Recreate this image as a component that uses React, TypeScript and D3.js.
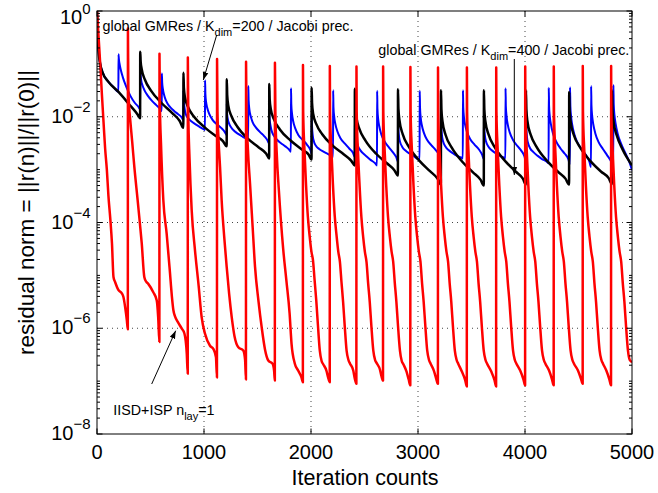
import React from 'react';
import * as d3 from 'd3';

// ---------- data: [iteration, log10(residual)] ----------
const xTickValues = [0, 1000, 2000, 3000, 4000, 5000];
const yTickExponents = [0, -2, -4, -6, -8];

// IISD+ISP n_lay=1 (red)
const redSeries: [number, number][] = [
  [0, 0], [15, -0.5], [30, -1.0], [45, -1.55], [61, -2.1], [76, -2.6], [92, -3.0], [107, -3.5], [125, -3.95], [140, -4.4], [154, -5.03], [170, -5.13], [201, -5.28], [232, -5.34], [247, -5.41], [263, -5.6], [279, -5.85], [288, -6.02],
  [289, -0.33], [293, -1.45], [300, -1.8], [308, -2.0], [330, -2.5], [349, -2.95], [380, -3.58], [400, -4.0], [418, -4.39], [442, -5.03], [460, -5.12], [479, -5.16], [526, -5.32], [558, -5.47], [572, -5.8], [583, -6.26],
  [584, -0.81], [588, -1.8], [598, -2.5], [620, -3.58], [651, -4.21], [680, -4.9], [700, -5.4], [714, -5.66], [730, -5.78], [755, -5.88], [790, -6.0], [817, -6.1], [839, -6.48], [848, -6.86],
  [849, -0.88], [853, -1.9], [865, -2.8], [885, -3.77], [916, -4.53], [950, -5.2], [978, -5.79], [1009, -6.1], [1056, -6.33], [1087, -6.39], [1112, -6.55], [1121, -6.93],
  [1122, -0.91], [1126, -1.9], [1135, -2.4], [1150, -2.95], [1165, -3.58], [1190, -4.3], [1212, -4.84], [1235, -5.35], [1259, -5.79], [1285, -6.15], [1321, -6.36], [1367, -6.42], [1384, -6.6], [1392, -6.97],
  [1393, -0.96], [1397, -1.9], [1410, -2.6], [1430, -3.26], [1455, -4.1], [1477, -4.84], [1510, -5.5], [1539, -5.98], [1570, -6.4], [1601, -6.61], [1640, -6.67], [1655, -6.8], [1662, -6.99],
  [1663, -0.98], [1667, -1.9], [1680, -2.7], [1700, -3.4], [1740, -4.5], [1770, -5.1], [1800, -5.72], [1818, -6.29], [1849, -6.67], [1880, -6.8], [1911, -6.93], [1924, -7.02],
  [1925, -1.02], [1927, -1.9], [1939, -2.63], [1954, -3.3], [1971, -3.9], [1988, -4.27], [2004, -4.55], [2019, -4.72], [2034, -5.1], [2049, -5.47], [2064, -5.92], [2082, -6.42], [2099, -6.62], [2114, -6.68], [2144, -6.8], [2160, -6.93], [2175, -7.02],
  [2176, -1.04], [2178, -1.9], [2190, -2.6], [2205, -3.28], [2222, -3.88], [2239, -4.25], [2255, -4.55], [2270, -4.74], [2285, -5.13], [2300, -5.5], [2315, -5.95], [2333, -6.43], [2350, -6.6], [2365, -6.67], [2395, -6.8], [2409, -6.95], [2424, -7.05],
  [2425, -1.05], [2427, -1.9], [2439, -2.65], [2454, -3.3], [2471, -3.9], [2488, -4.28], [2504, -4.56], [2519, -4.75], [2534, -5.15], [2549, -5.5], [2564, -5.95], [2582, -6.42], [2599, -6.6], [2614, -6.66], [2644, -6.78], [2658, -6.9], [2673, -6.99],
  [2674, -1.05], [2676, -1.9], [2688, -2.62], [2703, -3.3], [2720, -3.9], [2737, -4.27], [2753, -4.55], [2768, -4.74], [2783, -5.14], [2798, -5.5], [2813, -5.95], [2831, -6.42], [2848, -6.62], [2863, -6.68], [2893, -6.82], [2913, -6.97], [2928, -7.08],
  [2929, -1.06], [2931, -1.9], [2943, -2.63], [2958, -3.3], [2975, -3.9], [2992, -4.27], [3008, -4.55], [3023, -4.74], [3038, -5.15], [3053, -5.5], [3068, -5.94], [3086, -6.42], [3103, -6.6], [3118, -6.67], [3148, -6.8], [3171, -6.96], [3186, -7.05],
  [3187, -1.07], [3189, -1.9], [3201, -2.63], [3216, -3.3], [3233, -3.9], [3250, -4.27], [3266, -4.55], [3281, -4.74], [3296, -5.15], [3311, -5.5], [3326, -5.95], [3344, -6.42], [3361, -6.6], [3376, -6.67], [3410, -6.82], [3441, -6.98], [3456, -7.1],
  [3457, -1.07], [3459, -1.9], [3471, -2.63], [3486, -3.3], [3503, -3.9], [3520, -4.27], [3536, -4.55], [3551, -4.74], [3566, -5.15], [3581, -5.5], [3596, -5.95], [3614, -6.42], [3631, -6.6], [3646, -6.67], [3685, -6.82], [3715, -6.98], [3730, -7.1],
  [3731, -1.07], [3733, -1.9], [3745, -2.63], [3760, -3.3], [3777, -3.9], [3794, -4.27], [3810, -4.55], [3825, -4.74], [3840, -5.15], [3855, -5.5], [3870, -5.95], [3888, -6.42], [3905, -6.6], [3920, -6.67], [3955, -6.8], [3986, -6.97], [4001, -7.08],
  [4002, -1.05], [4004, -1.9], [4016, -2.63], [4031, -3.3], [4048, -3.9], [4065, -4.27], [4081, -4.55], [4096, -4.74], [4111, -5.15], [4126, -5.5], [4141, -5.95], [4159, -6.42], [4176, -6.6], [4191, -6.67], [4225, -6.8], [4253, -6.97], [4268, -7.08],
  [4269, -1.05], [4271, -1.9], [4283, -2.63], [4298, -3.3], [4315, -3.9], [4332, -4.27], [4348, -4.55], [4363, -4.74], [4378, -5.15], [4393, -5.5], [4408, -5.95], [4426, -6.42], [4443, -6.6], [4458, -6.67], [4495, -6.8], [4524, -6.96], [4539, -7.05],
  [4540, -1.04], [4542, -1.9], [4554, -2.63], [4569, -3.3], [4586, -3.9], [4603, -4.27], [4619, -4.55], [4634, -4.74], [4649, -5.15], [4664, -5.5], [4679, -5.95], [4697, -6.42], [4714, -6.6], [4729, -6.67], [4760, -6.8], [4789, -6.97], [4804, -7.08],
  [4805, -1.04], [4807, -1.9], [4819, -2.63], [4834, -3.3], [4851, -3.9], [4868, -4.27], [4884, -4.55], [4899, -4.74], [4914, -5.15], [4929, -5.5], [4944, -5.95], [4962, -6.42], [4979, -6.6], [5000, -6.64],
];

// global GMRes / K_dim=200 (blue)
const blueSeries: [number, number][] = [
  [0, 0], [5, -0.4], [14, -0.75], [30, -1.0], [50, -1.15], [107, -1.34], [150, -1.43], [200, -1.53],
  [201, -0.82], [204, -0.9], [211, -1.0], [221, -1.1], [241, -1.25], [271, -1.42], [311, -1.6], [351, -1.73], [386, -1.81], [403, -1.86],
  [404, -1.0], [407, -1.2], [414, -1.32], [424, -1.4], [444, -1.5], [474, -1.6], [514, -1.7], [554, -1.78], [589, -1.85], [605, -1.89],
  [606, -1.18], [609, -1.35], [616, -1.48], [626, -1.58], [646, -1.7], [676, -1.8], [716, -1.88], [756, -1.95], [791, -2.01], [807, -2.06],
  [808, -1.5], [811, -1.7], [818, -1.83], [828, -1.94], [848, -2.02], [878, -2.08], [918, -2.14], [958, -2.19], [993, -2.23], [1009, -2.25],
  [1010, -1.31], [1013, -1.57], [1020, -1.73], [1030, -1.83], [1050, -1.95], [1080, -2.06], [1120, -2.14], [1160, -2.21], [1195, -2.29], [1212, -2.35],
  [1213, -1.75], [1216, -1.95], [1223, -2.05], [1233, -2.12], [1253, -2.2], [1283, -2.27], [1323, -2.33], [1363, -2.38], [1398, -2.42], [1413, -2.44],
  [1414, -1.42], [1417, -1.69], [1424, -1.86], [1434, -1.97], [1454, -2.1], [1484, -2.2], [1524, -2.29], [1564, -2.37], [1594, -2.45], [1609, -2.51],
  [1610, -1.9], [1613, -2.05], [1620, -2.15], [1630, -2.25], [1650, -2.35], [1680, -2.43], [1720, -2.5], [1760, -2.56], [1795, -2.62], [1812, -2.66],
  [1813, -1.46], [1816, -1.77], [1823, -1.95], [1833, -2.08], [1853, -2.22], [1883, -2.35], [1923, -2.44], [1963, -2.53], [1993, -2.62], [2005, -2.69],
  [2006, -1.95], [2009, -2.15], [2016, -2.35], [2026, -2.46], [2046, -2.55], [2076, -2.61], [2116, -2.66], [2156, -2.7], [2191, -2.74], [2206, -2.76],
  [2207, -1.5], [2210, -1.82], [2217, -2.0], [2227, -2.13], [2247, -2.28], [2277, -2.41], [2317, -2.51], [2357, -2.6], [2392, -2.68], [2409, -2.76],
  [2410, -2.0], [2413, -2.2], [2420, -2.4], [2430, -2.5], [2450, -2.6], [2480, -2.68], [2520, -2.75], [2560, -2.82], [2600, -2.88], [2617, -2.92],
  [2618, -1.51], [2621, -1.85], [2628, -2.05], [2638, -2.18], [2658, -2.34], [2688, -2.47], [2728, -2.58], [2768, -2.68], [2798, -2.77], [2812, -2.85],
  [2813, -2.0], [2816, -2.2], [2823, -2.38], [2833, -2.48], [2853, -2.57], [2883, -2.64], [2923, -2.7], [2963, -2.75], [2998, -2.8], [3015, -2.82],
  [3016, -1.51], [3019, -1.83], [3026, -2.03], [3036, -2.16], [3056, -2.31], [3086, -2.44], [3126, -2.54], [3166, -2.63], [3199, -2.72], [3214, -2.8],
  [3215, -2.0], [3218, -2.2], [3225, -2.37], [3235, -2.47], [3255, -2.56], [3285, -2.63], [3325, -2.69], [3365, -2.74], [3402, -2.77], [3419, -2.79],
  [3420, -1.5], [3423, -1.82], [3430, -2.02], [3440, -2.15], [3460, -2.3], [3490, -2.43], [3530, -2.53], [3570, -2.62], [3600, -2.72], [3615, -2.8],
  [3616, -2.0], [3619, -2.2], [3626, -2.37], [3636, -2.47], [3656, -2.56], [3686, -2.63], [3726, -2.69], [3766, -2.74], [3801, -2.77], [3817, -2.79],
  [3818, -1.46], [3821, -1.8], [3828, -2.0], [3838, -2.14], [3858, -2.3], [3888, -2.44], [3928, -2.55], [3968, -2.65], [3995, -2.75], [4008, -2.85],
  [4009, -2.0], [4012, -2.2], [4019, -2.4], [4029, -2.5], [4049, -2.6], [4079, -2.67], [4119, -2.74], [4159, -2.8], [4204, -2.85], [4221, -2.88],
  [4222, -1.45], [4225, -1.8], [4232, -2.0], [4242, -2.14], [4262, -2.32], [4292, -2.47], [4332, -2.6], [4372, -2.7], [4405, -2.8], [4420, -2.9],
  [4421, -1.44], [4424, -1.8], [4431, -2.0], [4441, -2.15], [4461, -2.33], [4491, -2.49], [4531, -2.62], [4571, -2.73], [4602, -2.85], [4617, -2.95],
  [4618, -1.42], [4621, -1.78], [4628, -1.99], [4638, -2.14], [4658, -2.32], [4688, -2.48], [4728, -2.61], [4768, -2.73], [4808, -2.86], [4825, -2.95],
  [4826, -1.4], [4829, -1.76], [4836, -1.97], [4846, -2.12], [4866, -2.32], [4896, -2.5], [4936, -2.68], [4976, -2.86], [5000, -3.01],
];

// global GMRes / K_dim=400 (black)
const blackSeries: [number, number][] = [
  [0, 0], [5, -0.4], [14, -0.75], [30, -1.0], [50, -1.15], [107, -1.34], [201, -1.53], [294, -1.75], [387, -1.98], [403, -2.03],
  [404, -0.77], [408, -0.95], [418, -1.1], [448, -1.3], [503, -1.5], [603, -1.74], [703, -1.93], [773, -2.08], [807, -2.21],
  [808, -1.17], [812, -1.45], [822, -1.63], [852, -1.82], [907, -2.0], [1007, -2.2], [1107, -2.36], [1177, -2.46], [1212, -2.56],
  [1213, -1.29], [1217, -1.59], [1227, -1.79], [1257, -1.99], [1312, -2.19], [1412, -2.42], [1512, -2.58], [1582, -2.7], [1609, -2.79],
  [1610, -1.38], [1614, -1.67], [1624, -1.85], [1654, -2.05], [1709, -2.24], [1809, -2.45], [1909, -2.61], [1979, -2.72], [2005, -2.81],
  [2006, -1.45], [2010, -1.74], [2020, -1.94], [2050, -2.14], [2105, -2.33], [2205, -2.55], [2305, -2.71], [2375, -2.83], [2409, -2.92],
  [2410, -1.47], [2414, -1.8], [2424, -2.01], [2454, -2.24], [2509, -2.45], [2609, -2.7], [2709, -2.88], [2779, -3.01], [2812, -3.11],
  [2813, -1.48], [2817, -1.84], [2827, -2.07], [2857, -2.33], [2912, -2.56], [3012, -2.83], [3112, -3.03], [3182, -3.17], [3214, -3.28],
  [3215, -1.5], [3219, -1.86], [3229, -2.09], [3259, -2.35], [3314, -2.58], [3414, -2.85], [3514, -3.05], [3584, -3.19], [3615, -3.3],
  [3616, -1.5], [3620, -1.86], [3630, -2.09], [3660, -2.34], [3715, -2.57], [3815, -2.84], [3915, -3.04], [3980, -3.17], [4008, -3.28],
  [4009, -1.5], [4013, -1.86], [4023, -2.09], [4053, -2.34], [4108, -2.57], [4208, -2.84], [4308, -3.04], [4378, -3.17], [4412, -3.28],
  [4413, -1.53], [4417, -1.88], [4427, -2.1], [4457, -2.35], [4512, -2.57], [4612, -2.84], [4712, -3.04], [4782, -3.16], [4812, -3.27],
  [4813, -1.5], [4817, -1.86], [4827, -2.09], [4857, -2.35], [4912, -2.62], [5000, -2.92],
];

const FONT = '"Liberation Sans", Arial, Helvetica, sans-serif';

export default function App() {
  const x = d3.scaleLinear().domain([0, 5000]).range([97, 632]);
  const y = d3.scaleLog().domain([1e-8, 1]).range([434, 11]);
  const [x0, x1] = x.range();
  const [yB, yT] = y.range();

  const line = d3
    .line<[number, number]>()
    .x((d) => x(d[0]))
    .y((d) => y(Math.pow(10, d[1])))
    .curve(d3.curveMonotoneX);

  const minorTicks: number[] = [];
  for (let e = -8; e < 0; e++) {
    for (let m = 1; m <= 9; m++) {
      const v = m * Math.pow(10, e);
      if (m === 1 && e % 2 === 0) continue;
      minorTicks.push(v);
    }
  }

  const gridX = xTickValues.filter((v) => v > 0 && v < 5000);
  const gridY = yTickExponents.filter((e) => e < 0 && e > -8);

  return (
    <svg
      width={658}
      height={493}
      style={{ position: 'absolute', left: 0, top: 0, background: '#fff' }}
      fontFamily={FONT}
    >
      <defs>
        <clipPath id="plotClip">
          <rect x={x0} y={yT} width={x1 - x0} height={yB - yT} />
        </clipPath>
        <marker
          id="ah"
          viewBox="0 0 10 10"
          refX="10"
          refY="5"
          markerWidth="8"
          markerHeight="8"
          markerUnits="userSpaceOnUse"
          orient="auto"
        >
          <path d="M0,1.5 L10,5 L0,8.5 z" fill="#000" />
        </marker>
      </defs>
      <rect x={0} y={0} width={658} height={493} fill="#fff" />

      {/* grid */}
      {gridX.map((v) => (
        <line key={'gx' + v} x1={x(v)} x2={x(v)} y1={yT} y2={yB} stroke="#444" strokeWidth={1} strokeDasharray="1,4" />
      ))}
      {gridY.map((e) => (
        <line key={'gy' + e} x1={x0} x2={x1} y1={y(Math.pow(10, e))} y2={y(Math.pow(10, e))} stroke="#444" strokeWidth={1} strokeDasharray="1,4" />
      ))}

      {/* data */}
      <g clipPath="url(#plotClip)" fill="none" strokeLinejoin="round">
        <path d={line(blueSeries) || ''} stroke="#0000ff" strokeWidth={2} />
        <path d={line(blackSeries) || ''} stroke="#000" strokeWidth={2.5} />
        <path d={line(redSeries) || ''} stroke="#ff0000" strokeWidth={2.5} />
      </g>

      {/* axes box */}
      <rect x={x0} y={yT} width={x1 - x0} height={yB - yT} fill="none" stroke="#000" strokeWidth={1} />

      {/* x ticks */}
      {xTickValues.map((v) => (
        <g key={'xt' + v}>
          <line x1={x(v)} x2={x(v)} y1={yB} y2={yB - 5.5} stroke="#000" />
          <line x1={x(v)} x2={x(v)} y1={yT} y2={yT + 5.5} stroke="#000" />
          <text x={x(v)} y={458.5} textAnchor="middle" fontSize={20} fill="#000">
            {v}
          </text>
        </g>
      ))}

      {/* y ticks */}
      {yTickExponents.map((e) => {
        const yy = y(Math.pow(10, e));
        const base = e === 0 ? yy + 13 : yy + 6;
        const sup = e === 0 ? -10 : -11;
        return (
          <g key={'yt' + e}>
            <line x1={x0} x2={x0 + 5.5} y1={yy} y2={yy} stroke="#000" />
            <line x1={x1} x2={x1 - 5.5} y1={yy} y2={yy} stroke="#000" />
            <text x={90.5} y={base} textAnchor="end" fontSize={20} fill="#000">
              10
              <tspan dy={sup} fontSize={15}>
                {e === 0 ? '0' : '\u2212' + Math.abs(e)}
              </tspan>
            </text>
          </g>
        );
      })}
      {minorTicks.map((v, i) => (
        <g key={'mt' + i}>
          <line x1={x0} x2={x0 + 3} y1={y(v)} y2={y(v)} stroke="#000" />
          <line x1={x1} x2={x1 - 3} y1={y(v)} y2={y(v)} stroke="#000" />
        </g>
      ))}

      {/* axis labels */}
      <text x={365} y={485} textAnchor="middle" fontSize={21.5} fill="#000">
        Iteration counts
      </text>
      <text
        transform={`translate(33.5,212.5) rotate(-90)`}
        textAnchor="middle"
        fontSize={22.5}
        fill="#000"
      >
        residual norm = ||r(n)||/||r(0)||
      </text>

      {/* annotations */}
      <text x={102.5} y={31} fontSize={14.3} fill="#000">
        global GMRes / K<tspan dy={5} fontSize={11}>dim</tspan>
        <tspan dy={-5}>=200 / Jacobi prec.</tspan>
      </text>
      <line x1={216.7} y1={35} x2={203.3} y2={80} stroke="#000" strokeWidth={1} markerEnd="url(#ah)" />

      <text x={378.3} y={54.5} fontSize={14.3} fill="#000">
        global GMRes / K<tspan dy={5} fontSize={11}>dim</tspan>
        <tspan dy={-5}>=400 / Jacobi prec.</tspan>
      </text>
      <line x1={514.3} y1={59} x2={514.3} y2={175} stroke="#000" strokeWidth={1} markerEnd="url(#ah)" />

      <text x={113.3} y={415} fontSize={14.3} fill="#000">
        IISD+ISP n<tspan dy={5} fontSize={11}>lay</tspan>
        <tspan dy={-5}>=1</tspan>
      </text>
      <line x1={151.7} y1={384} x2={175.7} y2={330.7} stroke="#000" strokeWidth={1} markerEnd="url(#ah)" />
    </svg>
  );
}
